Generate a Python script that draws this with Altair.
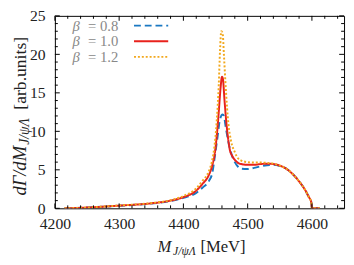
import altair as alt
import pandas as pd

# ---- data ----
M08 = [4215, 4250, 4300, 4350, 4380, 4400, 4420, 4430, 4440, 4445, 4449, 4453, 4457, 4461, 4463, 4466, 4470,
       4475, 4480, 4485, 4490, 4500, 4510, 4520, 4530, 4540, 4550, 4560, 4570, 4580, 4590, 4595, 4599, 4600, 4612]
V08 = [0.0, 0.1, 0.33, 0.62, 0.95, 1.35, 2.0, 2.7, 3.6, 4.6, 6.8, 9.2, 11.6, 12.2, 12.0, 10.5, 8.6,
       7.0, 6.0, 5.4, 5.15, 5.1, 5.25, 5.45, 5.6, 5.65, 5.5, 5.15, 4.45, 3.5, 2.3, 1.5, 0.8, 0.0, 0.0]

M10 = [4215, 4250, 4300, 4350, 4380, 4400, 4420, 4430, 4440, 4445, 4449, 4452, 4455, 4458, 4460, 4461.5, 4464,
       4467, 4470, 4472, 4476, 4480, 4485, 4490, 4500, 4510, 4520, 4530, 4540, 4550, 4560, 4570, 4580, 4590,
       4595, 4599, 4600, 4612]
V10 = [0.0, 0.1, 0.35, 0.65, 1.0, 1.45, 2.3, 3.2, 4.4, 5.6, 7.2, 9.5, 12.5, 15.8, 17.1, 16.8, 14.0,
       11.0, 8.8, 7.7, 6.8, 6.3, 5.9, 5.75, 5.65, 5.65, 5.75, 5.8, 5.75, 5.55, 5.15, 4.45, 3.5, 2.3,
       1.5, 0.8, 0.0, 0.0]

M12 = [4215, 4250, 4300, 4350, 4380, 4400, 4420, 4430, 4440, 4445, 4448, 4452, 4455, 4457, 4459, 4461, 4463,
       4466, 4470, 4474, 4480, 4485, 4490, 4500, 4510, 4520, 4530, 4540, 4550, 4560, 4570, 4580, 4590,
       4595, 4599, 4600, 4612]
V12 = [0.0, 0.1, 0.37, 0.68, 1.05, 1.6, 2.6, 3.6, 4.9, 6.3, 7.8, 11.5, 16.0, 20.5, 23.0, 22.8, 20.0,
       15.5, 11.0, 8.8, 7.3, 6.5, 6.2, 6.0, 5.95, 5.95, 5.9, 5.8, 5.55, 5.15, 4.45, 3.5, 2.3,
       1.5, 0.8, 0.0, 0.0]

BETAS = ["0.8", "1.0", "1.2"]
COLORS = ["#1a78c2", "#e8221c", "#f2a81d"]
DASHES = [[7, 4], [1, 0], [2, 2]]

X_MAJOR = [4200, 4300, 4400, 4500, 4600]
X_MINOR = [4220, 4240, 4260, 4280, 4320, 4340, 4360, 4380, 4420, 4440, 4460, 4480,
           4520, 4540, 4560, 4580, 4620, 4640]
Y_MAJOR = [0, 5, 10, 15, 20, 25]
Y_MINOR = [1, 2, 3, 4, 6, 7, 8, 9, 11, 12, 13, 14, 16, 17, 18, 19, 21, 22, 23, 24]

W, H = 296, 197
TOP = 5
FONT = "Liberation Serif"

frames = []
for b, ms, vs in zip(BETAS, [M08, M10, M12], [V08, V10, V12]):
    frames.append(pd.DataFrame({"m": ms, "v": vs, "beta": b}))

xs = alt.Scale(domain=[4200, 4650], nice=False, zero=False)
ys = alt.Scale(domain=[0, 25], nice=False)
col = alt.Scale(domain=BETAS, range=COLORS)
dsh = alt.Scale(domain=BETAS, range=DASHES)

xaxis = alt.Axis(values=X_MAJOR, format="d", ticks=False, tickSize=0, domain=False, grid=False, title=None,
                 labelFont=FONT, labelFontSize=16, labelColor="#222", labelPadding=8, labelFlush=False)
yaxis = alt.Axis(values=Y_MAJOR, ticks=False, tickSize=0, domain=False, grid=False, title=None,
                 labelFont=FONT, labelFontSize=16, labelColor="#222", labelPadding=10, labelFlush=False)

layers = []
for i, df in enumerate(frames):
    enc = dict(
        x=alt.X("m:Q", scale=xs, axis=xaxis),
        y=alt.Y("v:Q", scale=ys, axis=yaxis),
        color=alt.Color("beta:N", scale=col, legend=None),
        strokeDash=alt.StrokeDash("beta:N", scale=dsh, legend=None),
    )
    layers.append(alt.Chart(df).mark_line(strokeWidth=2, interpolate="monotone", clip=True).encode(**enc))

# inward ticks on all four sides
def xticks(vals, ln):
    d = pd.DataFrame({"t": vals})
    bot = alt.Chart(d).mark_rule(color="black", strokeWidth=1).encode(
        x=alt.X("t:Q", scale=xs, axis=xaxis), y=alt.value(H), y2=alt.value(H - ln))
    top = alt.Chart(d).mark_rule(color="black", strokeWidth=1).encode(
        x=alt.X("t:Q", scale=xs, axis=xaxis), y=alt.value(0), y2=alt.value(ln))
    return [bot, top]

def yticks(vals, ln):
    d = pd.DataFrame({"t": vals})
    lft = alt.Chart(d).mark_rule(color="black", strokeWidth=1).encode(
        y=alt.Y("t:Q", scale=ys, axis=yaxis), x=alt.value(0), x2=alt.value(ln))
    rgt = alt.Chart(d).mark_rule(color="black", strokeWidth=1).encode(
        y=alt.Y("t:Q", scale=ys, axis=yaxis), x=alt.value(W), x2=alt.value(W - ln))
    return [lft, rgt]

layers += xticks(X_MAJOR, 5) + xticks(X_MINOR, 3) + yticks(Y_MAJOR, 5) + yticks(Y_MINOR, 3)

# legend inside plot (top-left)
for i, b in enumerate(BETAS):
    d = pd.DataFrame({"beta": [b], "label": ["= " + b]})
    yl = 10 + 16 * i
    layers.append(alt.Chart(d).mark_rule(strokeWidth=2).encode(
        x=alt.value(81), x2=alt.value(116), y=alt.value(yl),
        color=alt.Color("beta:N", scale=col, legend=None),
        strokeDash=alt.StrokeDash("beta:N", scale=dsh, legend=None)))
    layers.append(alt.Chart(d).mark_text(font=FONT, fontSize=15, fontStyle="italic", color="#888",
                                         align="left", baseline="alphabetic").encode(
        x=alt.value(18), y=alt.value(yl + 5), text=alt.value("β")))
    layers.append(alt.Chart(d).mark_text(font=FONT, fontSize=15, color="#888",
                                         align="left", baseline="alphabetic").encode(
        x=alt.value(34), y=alt.value(yl + 5), text="label:N"))

# axis titles with subscripts (positions relative to the plot origin)
tdf = pd.DataFrame({"k": [0]})
def txt(s, x, y, size, italic, angle=0):
    kw = dict(font=FONT, fontSize=size, color="#222", align="left", baseline="alphabetic", angle=angle)
    if italic:
        kw["fontStyle"] = "italic"
    return alt.Chart(tdf).mark_text(**kw).encode(x=alt.value(x), y=alt.value(y), text=alt.value(s))

layers += [
    txt("M", 105, 242, 17, True),
    txt("J/ψΛ", 121, 245, 12, True),
    txt("[MeV]", 149, 242, 17, False),
    txt("dΓ/dM", -30, 184, 19, True, 270),
    txt("J/ψΛ", -27, 132, 14, True, 270),
    txt("[arb.units]", -30, 96, 18, False, 270),
]

chart = alt.layer(*layers).properties(
    width=W, height=H,
    autosize=alt.AutoSizeParams(type="none"),
    padding={"left": 48, "top": TOP, "right": 2, "bottom": 56},
).configure_view(stroke="black", strokeWidth=1)

chart.save("out.html", embed_options={"renderer": "svg", "actions": False})
